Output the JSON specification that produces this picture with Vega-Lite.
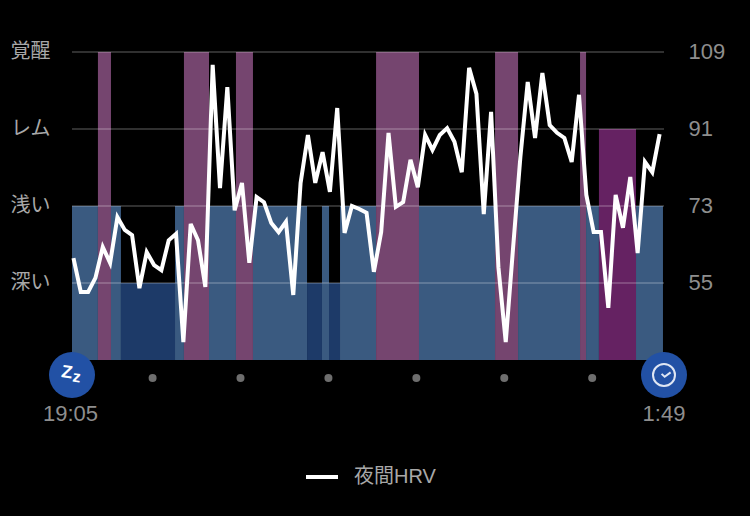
{
  "$schema": "https://vega.github.io/schema/vega-lite/v6.json",
  "autosize": "none",
  "width": 592,
  "height": 308,
  "padding": {"left": 72, "top": 52, "right": 86, "bottom": 156},
  "background": "#000000",
  "config": {"view": {"stroke": null}},
  "datasets": {
    "stages": [
      {"start": 0, "end": 17.7, "stage": "浅い", "level": 73},
      {"start": 17.7, "end": 26.6, "stage": "覚醒", "level": 109},
      {"start": 26.6, "end": 33.4, "stage": "浅い", "level": 73},
      {"start": 33.4, "end": 70.3, "stage": "深い", "level": 55},
      {"start": 70.3, "end": 76.4, "stage": "浅い", "level": 73},
      {"start": 76.4, "end": 93.5, "stage": "覚醒", "level": 109},
      {"start": 93.5, "end": 111.9, "stage": "浅い", "level": 73},
      {"start": 111.9, "end": 123.5, "stage": "覚醒", "level": 109},
      {"start": 123.5, "end": 160.4, "stage": "浅い", "level": 73},
      {"start": 160.4, "end": 170.6, "stage": "深い", "level": 55},
      {"start": 170.6, "end": 175.4, "stage": "浅い", "level": 73},
      {"start": 175.4, "end": 182.9, "stage": "深い", "level": 55},
      {"start": 182.9, "end": 207.5, "stage": "浅い", "level": 73},
      {"start": 207.5, "end": 236.8, "stage": "覚醒", "level": 109},
      {"start": 236.8, "end": 288.7, "stage": "浅い", "level": 73},
      {"start": 288.7, "end": 304.4, "stage": "覚醒", "level": 109},
      {"start": 304.4, "end": 346.7, "stage": "浅い", "level": 73},
      {"start": 346.7, "end": 350.8, "stage": "覚醒", "level": 109},
      {"start": 350.8, "end": 359.6, "stage": "浅い", "level": 73},
      {"start": 359.6, "end": 384.9, "stage": "レム", "level": 91},
      {"start": 384.9, "end": 403.3, "stage": "浅い", "level": 73}
    ],
    "grid": [{"v": 55}, {"v": 73}, {"v": 91}, {"v": 109}],
    "hours": [
      {"t": 55, "y": 32.8},
      {"t": 115, "y": 32.8},
      {"t": 175, "y": 32.8},
      {"t": 235, "y": 32.8},
      {"t": 295, "y": 32.8},
      {"t": 355, "y": 32.8}
    ],
    "badges": [{"t": 0, "y": 33.5}, {"t": 404, "y": 33.5}],
    "clock": [{"t": 404, "y": 33.5}],
    "times": [
      {"t": -1, "y": 24.4, "label": "19:05"},
      {"t": 404, "y": 24.4, "label": "1:49"}
    ],
    "zz": [{"t": -3.5, "y": 34.0, "glyph": "Z"}],
    "zzSmall": [{"t": 3.2, "y": 33.0, "glyph": "z"}],
    "hrv": [
      {"t": 1, "hrv": 60.8}, {"t": 6, "hrv": 52.9}, {"t": 11, "hrv": 52.9}, {"t": 16, "hrv": 56.2},
      {"t": 21, "hrv": 63.4}, {"t": 26, "hrv": 59.7}, {"t": 31, "hrv": 70.4}, {"t": 36, "hrv": 67.4},
      {"t": 41, "hrv": 66.2}, {"t": 46, "hrv": 53.8}, {"t": 51, "hrv": 62.2}, {"t": 56, "hrv": 59.2},
      {"t": 61, "hrv": 58}, {"t": 66, "hrv": 65}, {"t": 71, "hrv": 66.5}, {"t": 76, "hrv": 41.2},
      {"t": 81, "hrv": 68.8}, {"t": 86, "hrv": 65}, {"t": 91, "hrv": 54.1}, {"t": 96, "hrv": 106},
      {"t": 101, "hrv": 77.2}, {"t": 106, "hrv": 100.8}, {"t": 111, "hrv": 72}, {"t": 116, "hrv": 78.4},
      {"t": 121, "hrv": 59.7}, {"t": 126, "hrv": 75.1}, {"t": 131, "hrv": 73.9}, {"t": 136, "hrv": 69},
      {"t": 141, "hrv": 66.9}, {"t": 146, "hrv": 69.3}, {"t": 151, "hrv": 52.2}, {"t": 156, "hrv": 78.4},
      {"t": 161, "hrv": 89.6}, {"t": 166, "hrv": 78.4}, {"t": 171, "hrv": 85.6}, {"t": 176, "hrv": 76.3},
      {"t": 181, "hrv": 95.9}, {"t": 186, "hrv": 66.7}, {"t": 191, "hrv": 73}, {"t": 196, "hrv": 72.3},
      {"t": 201, "hrv": 71.4}, {"t": 206, "hrv": 57.6}, {"t": 211, "hrv": 66.9}, {"t": 216, "hrv": 90.1},
      {"t": 221, "hrv": 72.8}, {"t": 226, "hrv": 73.9}, {"t": 231, "hrv": 83.8}, {"t": 236, "hrv": 77.4},
      {"t": 241, "hrv": 89.6}, {"t": 246, "hrv": 86.1}, {"t": 251, "hrv": 89.6}, {"t": 256, "hrv": 91.2},
      {"t": 261, "hrv": 88}, {"t": 266, "hrv": 80.9}, {"t": 271, "hrv": 105.3}, {"t": 276, "hrv": 99.2},
      {"t": 281, "hrv": 71.1}, {"t": 286, "hrv": 95}, {"t": 291, "hrv": 58.7}, {"t": 296, "hrv": 41.2},
      {"t": 301, "hrv": 63.2}, {"t": 306, "hrv": 84.5}, {"t": 311, "hrv": 102}, {"t": 316, "hrv": 88.9},
      {"t": 321, "hrv": 104.1}, {"t": 326, "hrv": 91.9}, {"t": 331, "hrv": 90.1}, {"t": 336, "hrv": 88.9},
      {"t": 341, "hrv": 83.3}, {"t": 346, "hrv": 99}, {"t": 351, "hrv": 75.6}, {"t": 356, "hrv": 66.9},
      {"t": 361, "hrv": 66.9}, {"t": 366, "hrv": 49.2}, {"t": 371, "hrv": 75.6}, {"t": 376, "hrv": 67.9},
      {"t": 381, "hrv": 79.8}, {"t": 386, "hrv": 62}, {"t": 391, "hrv": 83.3}, {"t": 396, "hrv": 80.9},
      {"t": 401, "hrv": 89.8}
    ]
  },
  "resolve": {"scale": {"y": "independent", "color": "independent"}},
  "layer": [
    {
      "data": {"name": "stages"},
      "mark": {"type": "rect"},
      "encoding": {
        "x": {
          "field": "start",
          "type": "quantitative",
          "scale": {"domain": [0, 404], "nice": false, "zero": false},
          "axis": null
        },
        "x2": {"field": "end"},
        "y": {
          "field": "level",
          "type": "quantitative",
          "scale": {"domain": [37, 109], "nice": false, "zero": false},
          "axis": {
            "values": [55, 73, 91, 109],
            "labelExpr": "datum.value == 55 ? '深い' : datum.value == 73 ? '浅い' : datum.value == 91 ? 'レム' : '覚醒'",
            "title": null,
            "domain": false,
            "ticks": false,
            "grid": false,
            "labelFont": "Noto Sans CJK JP",
            "labelFontSize": 20,
            "labelColor": "#a8a8a8",
            "labelPadding": 22,
            "labelOffset": -1,
            "labelFlush": false
          }
        },
        "y2": {"datum": 37},
        "color": {
          "field": "stage",
          "type": "nominal",
          "scale": {
            "domain": ["覚醒", "レム", "浅い", "深い"],
            "range": ["#75456f", "#652262", "#3a5a80", "#1d3a68"]
          },
          "legend": null
        }
      }
    },
    {
      "data": {"name": "grid"},
      "mark": {"type": "rule", "color": "#ffffff", "opacity": 0.25, "strokeWidth": 1.5},
      "encoding": {
        "y": {
          "field": "v",
          "type": "quantitative",
          "scale": {"domain": [37, 109], "nice": false, "zero": false},
          "axis": null
        }
      }
    },
    {
      "data": {"name": "hrv"},
      "mark": {"type": "line", "strokeWidth": 4, "strokeJoin": "miter", "clip": false},
      "encoding": {
        "x": {"field": "t", "type": "quantitative", "axis": null},
        "y": {
          "field": "hrv",
          "type": "quantitative",
          "scale": {"domain": [37, 109], "nice": false, "zero": false},
          "axis": {
            "orient": "right",
            "values": [55, 73, 91, 109],
            "title": null,
            "domain": false,
            "ticks": false,
            "grid": false,
            "labelFont": "Liberation Sans",
            "labelFontSize": 22,
            "labelColor": "#8e8e8e",
            "labelPadding": 24,
            "labelOffset": -1,
            "labelFlush": false
          }
        },
        "color": {
          "datum": "夜間HRV",
          "scale": {"domain": ["夜間HRV"], "range": ["#ffffff"]},
          "legend": {
            "title": null,
            "orient": "none",
            "legendX": 232,
            "legendY": 407,
            "symbolType": "stroke",
            "symbolSize": 1024,
            "symbolStrokeWidth": 4,
            "labelFont": "Liberation Sans, Noto Sans CJK JP",
            "labelFontSize": 20,
            "labelColor": "#a8a8a8",
            "labelOffset": 14
          }
        }
      }
    },
    {
      "data": {"name": "hours"},
      "mark": {"type": "point", "filled": true, "size": 64, "color": "#6e6e6e", "opacity": 1},
      "encoding": {
        "x": {"field": "t", "type": "quantitative", "axis": null},
        "y": {
          "field": "y",
          "type": "quantitative",
          "scale": {"domain": [37, 109], "nice": false, "zero": false},
          "axis": null
        }
      }
    },
    {
      "data": {"name": "times"},
      "mark": {"type": "text", "font": "Liberation Sans", "fontSize": 22, "color": "#8e8e8e"},
      "encoding": {
        "x": {"field": "t", "type": "quantitative", "axis": null},
        "y": {
          "field": "y",
          "type": "quantitative",
          "scale": {"domain": [37, 109], "nice": false, "zero": false},
          "axis": null
        },
        "text": {"field": "label"}
      }
    },
    {
      "data": {"name": "badges"},
      "mark": {"type": "point", "filled": true, "size": 2116, "color": "#2251a5", "opacity": 1},
      "encoding": {
        "x": {"field": "t", "type": "quantitative", "axis": null},
        "y": {
          "field": "y",
          "type": "quantitative",
          "scale": {"domain": [37, 109], "nice": false, "zero": false},
          "axis": null
        }
      }
    },
    {
      "data": {"name": "zz"},
      "mark": {"type": "text", "font": "Liberation Sans", "fontWeight": "bold", "fontSize": 18, "color": "#ffffff", "angle": 8},
      "encoding": {
        "x": {"field": "t", "type": "quantitative", "axis": null},
        "y": {
          "field": "y",
          "type": "quantitative",
          "scale": {"domain": [37, 109], "nice": false, "zero": false},
          "axis": null
        },
        "text": {"field": "glyph"}
      }
    },
    {
      "data": {"name": "zzSmall"},
      "mark": {"type": "text", "font": "Liberation Sans", "fontWeight": "bold", "fontSize": 16, "color": "#ffffff", "angle": 8},
      "encoding": {
        "x": {"field": "t", "type": "quantitative", "axis": null},
        "y": {
          "field": "y",
          "type": "quantitative",
          "scale": {"domain": [37, 109], "nice": false, "zero": false},
          "axis": null
        },
        "text": {"field": "glyph"}
      }
    },
    {
      "data": {"name": "clock"},
      "mark": {"type": "point", "filled": false, "size": 484, "stroke": "#dfe6f3", "strokeWidth": 2, "opacity": 1},
      "encoding": {
        "x": {"field": "t", "type": "quantitative", "axis": null},
        "y": {
          "field": "y",
          "type": "quantitative",
          "scale": {"domain": [37, 109], "nice": false, "zero": false},
          "axis": null
        }
      }
    },
    {
      "data": {"name": "clock"},
      "mark": {
        "type": "point",
        "filled": false,
        "size": 1936,
        "shape": "M-0.11,-0.05L0.03,0.08L0.3,-0.12",
        "stroke": "#dfe6f3",
        "strokeWidth": 2,
        "opacity": 1
      },
      "encoding": {
        "x": {"field": "t", "type": "quantitative", "axis": null},
        "y": {
          "field": "y",
          "type": "quantitative",
          "scale": {"domain": [37, 109], "nice": false, "zero": false},
          "axis": null
        }
      }
    }
  ]
}
